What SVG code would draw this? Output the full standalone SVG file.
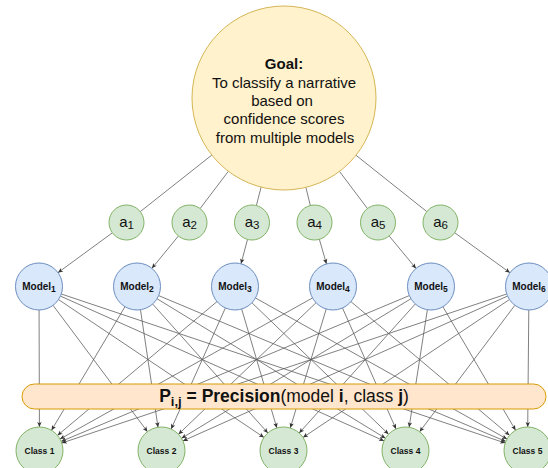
<svg xmlns="http://www.w3.org/2000/svg" width="548" height="468" viewBox="0 0 548 468">
<style>
text{font-family:"Liberation Sans",Arial,Helvetica,sans-serif;fill:#111}
.goal{fill:#fff2cc;stroke:#d6b656;stroke-width:1}
.g{fill:#d5e8d4;stroke:#82b366;stroke-width:1}
.m{fill:#dae8fc;stroke:#6c8ebf;stroke-width:1}
.bar{fill:#ffe6cc;stroke:#d79b00;stroke-width:1}
.e{stroke:#555;stroke-width:0.75;fill:none}
.ea{stroke:#555;stroke-width:0.75;fill:none;marker-end:url(#arr)}
.al{font-size:15px;text-anchor:middle}
.ml{font-size:10px;font-weight:bold;text-anchor:middle}
.cl{font-size:8.5px;font-weight:bold;text-anchor:middle}
.gl{font-size:15px;text-anchor:middle}
</style>
<defs>
<marker id="arr" markerUnits="userSpaceOnUse" markerWidth="8" markerHeight="8" viewBox="-6 -4 8 8" refX="0" refY="0" orient="auto" overflow="visible">
<path d="M0,0 L-5,-2.2 L-3.8,0 L-5,2.2 Z" fill="#333" stroke="none"/>
</marker>
</defs>
<g id="connectors">
<line class="e" x1="211.83" y1="155.05" x2="140.23" y2="211.65"/>
<line class="e" x1="228.38" y1="171.28" x2="200.08" y2="208.56"/>
<line class="e" x1="261.10" y1="187.10" x2="256.36" y2="205.55"/>
<line class="e" x1="305.89" y1="187.36" x2="310.34" y2="205.50"/>
<line class="e" x1="339.44" y1="171.42" x2="367.45" y2="208.53"/>
<line class="e" x1="356.00" y1="155.28" x2="426.80" y2="211.60"/>
<line class="ea" x1="112.38" y1="232.83" x2="57.97" y2="272.63"/>
<line class="ea" x1="178.40" y1="236.03" x2="151.90" y2="268.33"/>
<line class="ea" x1="247.51" y1="239.41" x2="241.03" y2="263.79"/>
<line class="ea" x1="319.36" y1="239.31" x2="326.47" y2="263.92"/>
<line class="ea" x1="389.16" y1="235.98" x2="416.01" y2="268.40"/>
<line class="ea" x1="454.68" y1="232.75" x2="509.96" y2="272.73"/>
<line class="ea" x1="39.07" y1="310.0" x2="39.43" y2="427.0"/>
<line class="ea" x1="53.06" y1="305.33" x2="147.44" y2="431.67"/>
<line class="ea" x1="58.52" y1="299.59" x2="263.98" y2="437.41"/>
<line class="ea" x1="60.45" y1="296.10" x2="384.05" y2="440.90"/>
<line class="ea" x1="61.28" y1="293.98" x2="505.22" y2="443.02"/>
<line class="ea" x1="124.99" y1="306.70" x2="51.51" y2="430.30"/>
<line class="ea" x1="140.47" y1="309.74" x2="158.03" y2="427.26"/>
<line class="ea" x1="152.66" y1="304.03" x2="267.84" y2="432.97"/>
<line class="ea" x1="157.05" y1="298.75" x2="385.45" y2="438.25"/>
<line class="ea" x1="158.67" y1="295.60" x2="505.83" y2="441.40"/>
<line class="ea" x1="217.00" y1="301.60" x2="57.50" y2="435.40"/>
<line class="ea" x1="225.39" y1="307.95" x2="171.11" y2="429.05"/>
<line class="ea" x1="241.66" y1="309.04" x2="276.84" y2="427.96"/>
<line class="ea" x1="251.94" y1="302.79" x2="388.56" y2="434.21"/>
<line class="ea" x1="255.50" y1="297.99" x2="507.00" y2="439.01"/>
<line class="ea" x1="312.48" y1="297.96" x2="60.02" y2="439.04"/>
<line class="ea" x1="316.02" y1="302.74" x2="178.48" y2="434.26"/>
<line class="ea" x1="326.21" y1="309.00" x2="290.29" y2="428.00"/>
<line class="ea" x1="342.50" y1="307.99" x2="396.00" y2="429.01"/>
<line class="ea" x1="350.97" y1="301.65" x2="509.53" y2="435.35"/>
<line class="ea" x1="409.32" y1="295.58" x2="61.18" y2="441.42"/>
<line class="ea" x1="410.92" y1="298.72" x2="181.58" y2="438.28"/>
<line class="ea" x1="415.29" y1="303.97" x2="299.21" y2="433.03"/>
<line class="ea" x1="427.39" y1="309.72" x2="409.11" y2="427.28"/>
<line class="ea" x1="442.92" y1="306.75" x2="515.58" y2="430.25"/>
<line class="ea" x1="506.72" y1="293.97" x2="61.78" y2="443.03"/>
<line class="ea" x1="507.54" y1="296.08" x2="182.96" y2="440.92"/>
<line class="ea" x1="509.46" y1="299.55" x2="303.04" y2="437.45"/>
<line class="ea" x1="514.86" y1="305.27" x2="419.64" y2="431.73"/>
<line class="ea" x1="528.79" y1="310.0" x2="527.71" y2="427.0"/>
</g>
<g id="goal">
<circle class="goal" cx="284" cy="98" r="92"/>
<text class="gl" x="284" y="69" font-weight="bold">Goal:</text>
<text class="gl" x="284" y="87.5">To classify a narrative</text>
<text class="gl" x="282" y="106">based on</text>
<text class="gl" x="284" y="124">confidence scores</text>
<text class="gl" x="285" y="142.5">from multiple models</text>
</g>
<g id="a1"><circle class="g" cx="126.5" cy="222.5" r="17.5"/><text class="al" x="126.5" y="226.5">a<tspan font-size="11.5" dy="2.5">1</tspan></text></g>
<g id="a2"><circle class="g" cx="189.5" cy="222.5" r="17.5"/><text class="al" x="189.5" y="226.5">a<tspan font-size="11.5" dy="2.5">2</tspan></text></g>
<g id="a3"><circle class="g" cx="252" cy="222.5" r="17.5"/><text class="al" x="252" y="226.5">a<tspan font-size="11.5" dy="2.5">3</tspan></text></g>
<g id="a4"><circle class="g" cx="314.5" cy="222.5" r="17.5"/><text class="al" x="314.5" y="226.5">a<tspan font-size="11.5" dy="2.5">4</tspan></text></g>
<g id="a5"><circle class="g" cx="378" cy="222.5" r="17.5"/><text class="al" x="378" y="226.5">a<tspan font-size="11.5" dy="2.5">5</tspan></text></g>
<g id="a6"><circle class="g" cx="440.5" cy="222.5" r="17.5"/><text class="al" x="440.5" y="226.5">a<tspan font-size="11.5" dy="2.5">6</tspan></text></g>
<g id="model1"><circle class="m" cx="39" cy="286.5" r="23.5"/><text class="ml" x="39" y="290">Model<tspan font-size="8.5" dy="2">1</tspan></text></g>
<g id="model2"><circle class="m" cx="137" cy="286.5" r="23.5"/><text class="ml" x="137" y="290">Model<tspan font-size="8.5" dy="2">2</tspan></text></g>
<g id="model3"><circle class="m" cx="235" cy="286.5" r="23.5"/><text class="ml" x="235" y="290">Model<tspan font-size="8.5" dy="2">3</tspan></text></g>
<g id="model4"><circle class="m" cx="333" cy="286.5" r="23.5"/><text class="ml" x="333" y="290">Model<tspan font-size="8.5" dy="2">4</tspan></text></g>
<g id="model5"><circle class="m" cx="431" cy="286.5" r="23.5"/><text class="ml" x="431" y="290">Model<tspan font-size="8.5" dy="2">5</tspan></text></g>
<g id="model6"><circle class="m" cx="529" cy="286.5" r="23.5"/><text class="ml" x="529" y="290">Model<tspan font-size="8.5" dy="2">6</tspan></text></g>
<g id="precision">
<rect class="bar" x="22" y="384" width="524" height="25" rx="12.5" ry="12.5"/>
<text x="284" y="402" font-size="17.5" text-anchor="middle"><tspan font-weight="bold">P</tspan><tspan font-weight="bold" font-size="13" dy="4">i,j</tspan><tspan font-weight="bold" dy="-4"> = Precision</tspan>(model <tspan font-weight="bold">i</tspan>, class <tspan font-weight="bold">j</tspan>)</text>
</g>
<g id="class1"><circle class="g" cx="39.5" cy="450.5" r="23.5"/><text class="cl" x="39.5" y="453.5">Class 1</text></g>
<g id="class2"><circle class="g" cx="161.5" cy="450.5" r="23.5"/><text class="cl" x="161.5" y="453.5">Class 2</text></g>
<g id="class3"><circle class="g" cx="283.5" cy="450.5" r="23.5"/><text class="cl" x="283.5" y="453.5">Class 3</text></g>
<g id="class4"><circle class="g" cx="405.5" cy="450.5" r="23.5"/><text class="cl" x="405.5" y="453.5">Class 4</text></g>
<g id="class5"><circle class="g" cx="527.5" cy="450.5" r="23.5"/><text class="cl" x="527.5" y="453.5">Class 5</text></g>
</svg>
